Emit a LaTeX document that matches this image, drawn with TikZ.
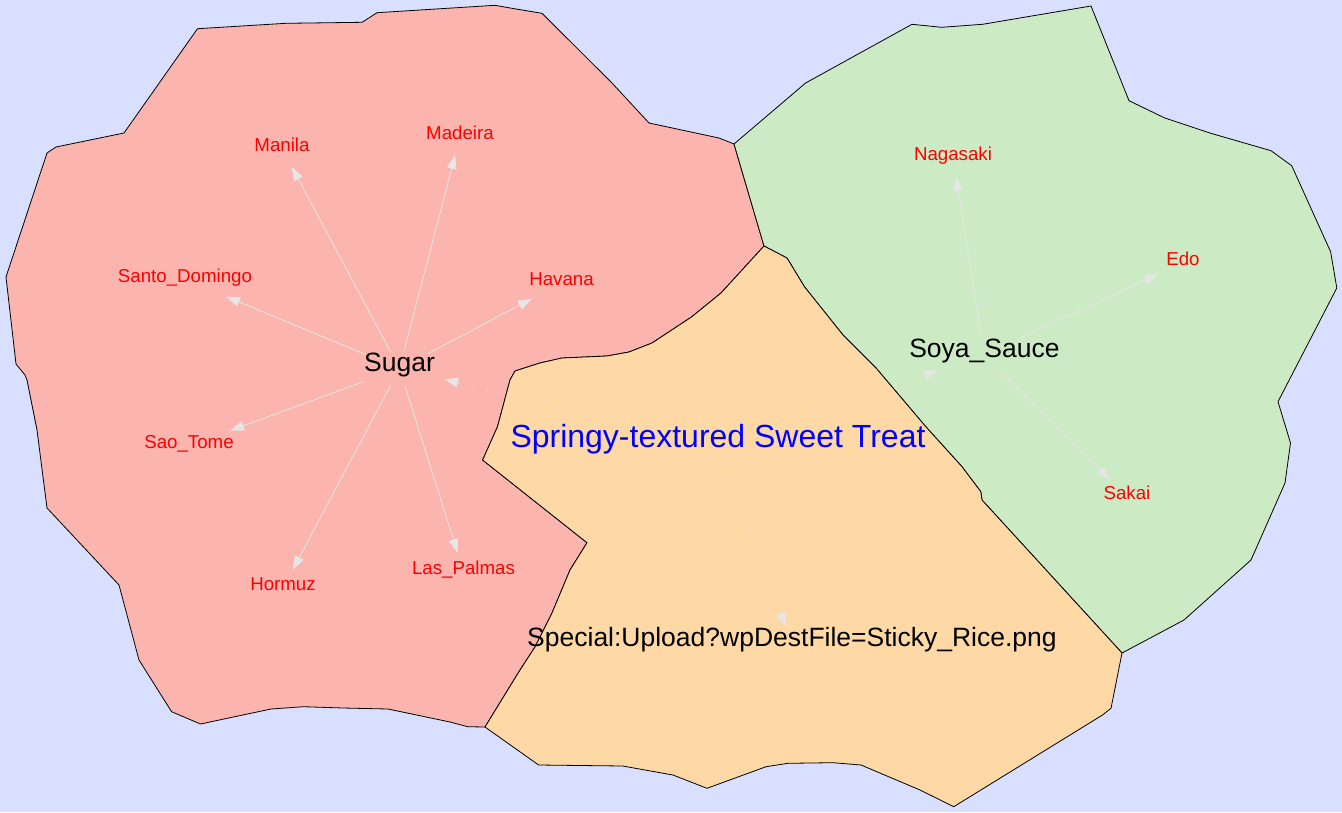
\documentclass[tikz,border=0pt]{standalone}
\usepackage{fontspec}
\setmainfont{Liberation Sans}
\usetikzlibrary{shapes.geometric,arrows.meta}
\definecolor{bgblue}{RGB}{217,224,255}
\definecolor{sugarfill}{HTML}{FBB4AE}
\definecolor{soyafill}{HTML}{CCEBC5}
\definecolor{treatfill}{HTML}{FED9A6}
\definecolor{edgegray}{RGB}{230,230,230}
\tikzset{
  region/.style={draw=black, line width=0.8pt, line join=miter},
  lblbase/.style={ellipse, anchor=base, inner xsep=5pt, text height=0.75em, text depth=0.25em},
  smalllbl/.style={lblbase, inner ysep=8pt, text=red, font=\fontsize{18.7}{22}\selectfont},
  mainlbl/.style={lblbase, inner ysep=7pt, text=black, font=\fontsize{26.5}{30}\selectfont},
  toplbl/.style={lblbase, inner ysep=8pt, text=blue, font=\fontsize{32}{36}\selectfont},
  edge/.style={draw=edgegray, line width=0.8pt, -{Triangle[length=14pt,width=9.5pt]}},
  dotedge/.style={edge, line width=1pt, dash pattern=on 1.5pt off 13pt}
}
\begin{document}
\begin{tikzpicture}[x=1pt,y=-1pt]
\useasboundingbox (0,0) rectangle (1342,812);
\fill[bgblue] (0,0) rectangle (1342,812);
% Sugar region
\filldraw[region, fill=sugarfill] (197.5,28.7) -- (286,23.3) -- (362,22.3) -- (377,12.7) -- (495,5.3) -- (512,8.3) -- (542,13.3) -- (612,83) -- (649,123) -- (719,138) -- (734,144) -- (764,246) -- (721,293) -- (691.5,317) -- (652,343) -- (629,352) -- (607,356) -- (562,358) -- (540,363) -- (515,371) -- (510,380) -- (497.5,426.7) -- (482.6,460) -- (587,542.7) -- (570,570) -- (552,613) -- (535,647) -- (520,670) -- (485,727) -- (467.7,726.7) -- (450,722) -- (388,709) -- (343,708) -- (303.5,706.7) -- (271,709) -- (200.5,724) -- (171.6,711.7) -- (139,660) -- (119,585) -- (47,508) -- (37,430) -- (27,380) -- (25,375) -- (16,364) -- (6,277) -- (47,153) -- (56,147) -- (124,133) -- cycle;
% Soya region
\filldraw[region, fill=soyafill] (734,144) -- (805.6,83) -- (912,24.3) -- (941.6,27.3) -- (982.6,24.3) -- (1091,6) -- (1129,100.7) -- (1164.8,118) -- (1209.8,133) -- (1271,150.7) -- (1291.7,165.7) -- (1330.6,251.7) -- (1336.8,288) -- (1278,401.7) -- (1290.5,443) -- (1285,483) -- (1251,560) -- (1184,620) -- (1122,653) -- (982,500) -- (980.8,491.7) -- (962,466.7) -- (925.8,426.7) -- (876,368) -- (843,335) -- (804.4,286.7) -- (787,258) -- (764,246) -- cycle;
% Treat region
\filldraw[region, fill=treatfill] (764,246) -- (787,258) -- (804.4,286.7) -- (843,335) -- (876,368) -- (925.8,426.7) -- (962,466.7) -- (980.8,491.7) -- (982,500) -- (1122,653) -- (1111,708.3) -- (1102.5,715) -- (953.8,806.7) -- (920,790) -- (861,765) -- (833,762.7) -- (788,763.3) -- (766,766.7) -- (707,788.3) -- (673,775) -- (622.7,766) -- (538.6,765) -- (485,727) -- (520,670) -- (535,647) -- (552,613) -- (570,570) -- (587,542.7) -- (482.6,460) -- (497.5,426.7) -- (510,380) -- (515,371) -- (540,363) -- (562,358) -- (607,356) -- (629,352) -- (652,343) -- (691.5,317) -- (721,293) -- cycle;
% nodes
\node[mainlbl] (sugar) at (399.5,371) {Sugar};
\node[mainlbl] (soya) at (984.4,357.3) {Soya\_Sauce};
\node[toplbl] (treat) at (718,447.7) {Springy-textured Sweet Treat};
\node[mainlbl] (upload) at (792,646) {Special:Upload?wpDestFile=Sticky\_Rice.png};
\node[smalllbl] (manila) at (282,151) {Manila};
\node[smalllbl] (madeira) at (460,139) {Madeira};
\node[smalllbl] (santo) at (185,282) {Santo\_Domingo};
\node[smalllbl] (havana) at (561.5,285.7) {Havana};
\node[smalllbl] (saotome) at (189,448.3) {Sao\_Tome};
\node[smalllbl] (hormuz) at (283,590.7) {Hormuz};
\node[smalllbl] (palmas) at (463.5,574) {Las\_Palmas};
\node[smalllbl] (nagasaki) at (953,160.7) {Nagasaki};
\node[smalllbl] (edo) at (1183,265) {Edo};
\node[smalllbl] (sakai) at (1127,499.3) {Sakai};
% edges
\draw[edge] (sugar) -- (manila);
\draw[edge] (sugar) -- (madeira);
\draw[edge] (sugar) -- (santo);
\draw[edge] (sugar) -- (havana);
\draw[edge] (sugar) -- (saotome);
\draw[edge] (sugar) -- (hormuz);
\draw[edge] (sugar) -- (palmas);
\draw[edge] (soya) -- (nagasaki);
\draw[edge] (soya) -- (edo);
\draw[edge] (soya) -- (sakai);
\draw[dotedge] (treat) -- (sugar);
\draw[dotedge] (treat) -- (soya);
\draw[dotedge] (treat) -- (upload);
\end{tikzpicture}
\end{document}
